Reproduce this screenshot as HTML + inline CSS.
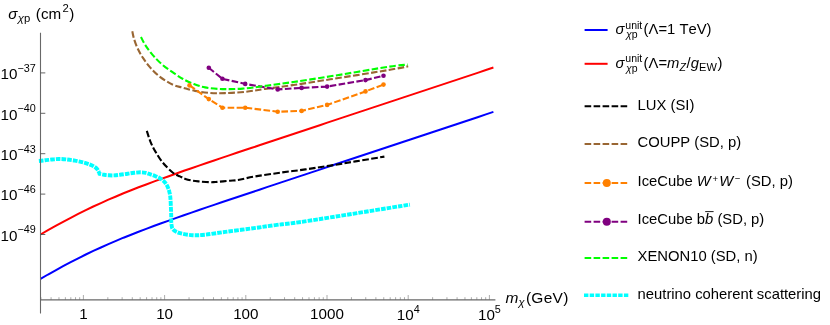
<!DOCTYPE html>
<html><head><meta charset="utf-8"><title>plot</title>
<style>html,body{margin:0;padding:0;background:#fff}body{width:830px;height:325px;overflow:hidden;font-family:"Liberation Sans",sans-serif}</style></head>
<body>
<svg width="830" height="325" viewBox="0 0 830 325" style="display:block;will-change:transform">
<rect width="830" height="325" fill="#fff"/>
<g fill="none">
<path d="M40.5,278.9 L48.0,274.5 L55.6,270.3 L63.1,266.2 L70.7,262.2 L78.2,258.3 L85.8,254.5 L93.3,250.9 L100.9,247.5 L108.4,244.1 L116.0,240.9 L123.5,237.7 L131.1,234.7 L138.6,231.7 L146.2,228.9 L153.7,226.0 L161.3,223.3 L168.8,220.6 L176.4,217.9 L183.9,215.2 L191.5,212.6 L199.0,210.0 L206.6,207.4 L214.1,204.9 L221.7,202.3 L229.2,199.8 L236.8,197.2 L244.3,194.7 L251.9,192.2 L259.4,189.7 L266.9,187.1 L274.5,184.6 L282.0,182.1 L289.6,179.6 L297.1,177.1 L304.7,174.6 L312.2,172.1 L319.8,169.6 L327.3,167.0 L334.9,164.5 L342.4,162.0 L350.0,159.5 L357.5,157.0 L365.1,154.5 L372.6,152.0 L380.2,149.5 L387.7,147.0 L395.3,144.5 L402.8,142.0 L410.4,139.5 L417.9,137.0 L425.5,134.5 L433.0,132.0 L440.6,129.5 L448.1,127.0 L455.7,124.5 L463.2,122.0 L470.8,119.5 L478.3,117.0 L485.9,114.4 L493.4,111.9" stroke="#0000ff" stroke-width="2"/>
<path d="M40.5,234.5 L48.0,230.1 L55.6,225.9 L63.1,221.8 L70.7,217.8 L78.2,213.9 L85.8,210.1 L93.3,206.5 L100.9,203.1 L108.4,199.7 L116.0,196.5 L123.5,193.3 L131.1,190.3 L138.6,187.3 L146.2,184.5 L153.7,181.6 L161.3,178.9 L168.8,176.2 L176.4,173.5 L183.9,170.8 L191.5,168.2 L199.0,165.6 L206.6,163.0 L214.1,160.5 L221.7,157.9 L229.2,155.4 L236.8,152.8 L244.3,150.3 L251.9,147.8 L259.4,145.3 L266.9,142.7 L274.5,140.2 L282.0,137.7 L289.6,135.2 L297.1,132.7 L304.7,130.2 L312.2,127.7 L319.8,125.2 L327.3,122.6 L334.9,120.1 L342.4,117.6 L350.0,115.1 L357.5,112.6 L365.1,110.1 L372.6,107.6 L380.2,105.1 L387.7,102.6 L395.3,100.1 L402.8,97.6 L410.4,95.1 L417.9,92.6 L425.5,90.1 L433.0,87.6 L440.6,85.1 L448.1,82.6 L455.7,80.1 L463.2,77.6 L470.8,75.1 L478.3,72.6 L485.9,70.0 L493.4,67.5" stroke="#ff0000" stroke-width="2"/>
<path d="M146.8,130.8 C147.4,132.6 148.9,137.9 150.3,141.3 C151.7,144.7 153.2,147.9 155.3,151.4 C157.4,154.9 159.9,159.1 162.8,162.6 C165.7,166.1 170.0,170.4 172.9,172.7 C175.8,175.0 177.9,175.4 180.0,176.4 C182.1,177.4 183.3,178.2 185.4,178.9 C187.5,179.6 190.0,180.2 192.5,180.7 C195.0,181.1 197.5,181.3 200.4,181.6 C203.3,181.8 207.5,182.1 210.0,182.2 C212.5,182.3 212.2,182.2 215.5,182.0 C218.8,181.8 226.2,181.0 230.0,180.7 C233.8,180.4 233.8,180.7 238.0,180.0 C242.2,179.3 248.2,177.6 255.2,176.4 C262.2,175.2 271.8,173.9 280.2,172.7 C288.6,171.5 296.9,170.6 305.3,169.4 C313.7,168.2 322.0,166.9 330.4,165.6 C338.8,164.3 346.4,162.9 355.4,161.4 C364.4,159.9 379.6,157.4 384.4,156.6" stroke="#000" stroke-width="2.1" stroke-dasharray="6.6 2.4"/>
<path d="M132.3,31.3 C132.6,32.5 133.1,35.9 134.0,38.8 C134.9,41.7 136.3,45.7 137.8,48.8 C139.3,51.9 140.7,54.5 142.8,57.6 C144.9,60.7 147.4,64.3 150.3,67.6 C153.2,70.8 156.5,74.2 160.3,77.1 C164.1,79.9 169.2,83.0 172.9,84.7 C176.6,86.5 178.8,86.6 182.5,87.6 C186.2,88.6 190.4,90.0 195.0,90.9 C199.6,91.8 205.0,92.6 210.0,93.0 C215.0,93.4 219.2,93.3 225.0,93.1 C230.8,92.9 238.3,92.6 245.0,91.9 C251.7,91.2 257.2,90.0 265.2,88.9 C273.2,87.8 281.9,86.7 292.8,85.1 C303.7,83.5 314.5,81.8 330.4,79.3 C346.3,76.8 375.0,72.3 388.0,70.1 C401.0,67.9 404.8,66.9 408.2,66.3" stroke="#996633" stroke-width="2.1" stroke-dasharray="6.6 2.4"/>
<path d="M189.5,85.4 L208.8,99.1 L222.4,107.7 L245.2,107.7 L277.7,111.7 L301.6,110.9 L327.1,104.9 L365.5,91.4 L383.5,84.6" stroke="#ff8000" stroke-width="2.1" stroke-dasharray="6.6 2.4"/>
<path d="M208.8,67.8 L222.4,78.8 L245.2,83.9 L277.7,89.4 L301.6,87.9 L327.1,86.6 L365.5,80.1 L383.5,75.8" stroke="#800080" stroke-width="2.1" stroke-dasharray="6.6 2.4"/>
<path d="M141.0,37.0 C141.7,38.4 143.3,42.1 145.3,45.1 C147.3,48.1 149.9,51.8 152.8,55.1 C155.7,58.4 159.0,61.9 162.8,65.1 C166.6,68.3 172.0,71.9 175.4,74.2 C178.8,76.5 180.2,77.5 183.0,79.0 C185.8,80.5 188.8,82.1 192.5,83.5 C196.2,84.9 200.0,86.5 205.0,87.4 C210.0,88.3 216.3,88.9 222.6,89.1 C228.9,89.3 235.6,89.1 242.7,88.6 C249.8,88.1 256.8,87.0 265.2,85.9 C273.6,84.8 281.9,83.7 292.8,82.1 C303.7,80.5 314.5,78.8 330.4,76.3 C346.3,73.8 375.1,68.8 388.0,66.8 C400.9,64.8 404.4,65.0 407.7,64.6" stroke="#00ff00" stroke-width="2.1" stroke-dasharray="6.6 2.4"/>
<path d="M38.9,161.0 C39.9,160.9 42.8,160.6 45.0,160.3 C47.2,160.1 49.7,159.7 52.0,159.5 C54.3,159.3 56.3,159.0 58.6,159.0 C60.9,159.0 63.3,159.1 66.0,159.4 C68.7,159.7 72.0,160.1 75.0,160.6 C78.0,161.1 81.5,161.9 84.0,162.6 C86.5,163.3 88.2,163.9 90.0,164.6 C91.8,165.3 93.3,166.0 94.5,166.8 C95.7,167.6 96.6,168.4 97.3,169.3 C98.0,170.2 98.4,171.2 98.8,172.0 C99.2,172.8 99.4,173.5 99.5,173.8 C100.1,173.9 101.6,174.4 103.0,174.6 C104.4,174.8 105.9,175.1 107.7,175.2 C109.5,175.3 111.7,175.5 113.7,175.4 C115.8,175.3 117.7,175.1 120.0,174.8 C122.3,174.5 125.3,174.0 127.6,173.7 C129.9,173.4 131.8,173.0 134.0,172.8 C136.2,172.6 138.5,172.3 140.5,172.3 C142.5,172.3 144.3,172.6 146.0,172.9 C147.7,173.2 148.9,173.9 150.5,174.4 C152.1,174.9 153.9,175.5 155.5,176.2 C157.1,176.9 158.8,177.6 160.2,178.5 C161.6,179.4 162.9,180.4 164.0,181.4 C165.1,182.4 165.8,183.5 166.5,184.7 C167.2,185.8 167.7,187.1 168.2,188.3 C168.7,189.5 169.1,190.6 169.4,192.0 C169.8,193.4 170.1,195.2 170.3,197.0 C170.5,198.8 170.5,199.6 170.7,202.6 C170.8,205.6 171.1,211.5 171.2,215.1 C171.3,218.7 171.1,221.5 171.4,223.9 C171.7,226.3 171.7,228.1 173.2,229.6 C174.7,231.1 176.9,232.3 180.2,233.2 C183.4,234.1 188.5,234.9 192.7,235.2 C196.9,235.4 199.9,235.2 205.3,234.7 C210.7,234.1 217.8,232.9 225.3,231.9 C232.8,230.9 242.1,229.7 250.4,228.6 C258.8,227.5 265.8,226.4 275.4,225.1 C285.0,223.8 285.6,224.3 308.0,220.9 C330.4,217.5 392.9,207.3 409.9,204.6" stroke="#00ffff" stroke-width="3.9" stroke-dasharray="4.6 1.1"/>
</g>
<circle cx="189.5" cy="85.4" r="2.3" fill="#ff8000"/><circle cx="208.8" cy="99.1" r="2.3" fill="#ff8000"/><circle cx="222.4" cy="107.7" r="2.3" fill="#ff8000"/><circle cx="245.2" cy="107.7" r="2.3" fill="#ff8000"/><circle cx="277.7" cy="111.7" r="2.3" fill="#ff8000"/><circle cx="301.6" cy="110.9" r="2.3" fill="#ff8000"/><circle cx="327.1" cy="104.9" r="2.3" fill="#ff8000"/><circle cx="365.5" cy="91.4" r="2.3" fill="#ff8000"/><circle cx="383.5" cy="84.6" r="2.3" fill="#ff8000"/>
<circle cx="208.8" cy="67.8" r="2.3" fill="#800080"/><circle cx="222.4" cy="78.8" r="2.3" fill="#800080"/><circle cx="245.2" cy="83.9" r="2.3" fill="#800080"/><circle cx="277.7" cy="89.4" r="2.3" fill="#800080"/><circle cx="301.6" cy="87.9" r="2.3" fill="#800080"/><circle cx="327.1" cy="86.6" r="2.3" fill="#800080"/><circle cx="365.5" cy="80.1" r="2.3" fill="#800080"/><circle cx="383.5" cy="75.8" r="2.3" fill="#800080"/>
<g fill="none" stroke="#686868">
<path d="M40.5,32.8 V313.6" stroke-width="1.1"/>
<path d="M40.5,299.95 H495.4" stroke-width="1.3"/>
</g>
<g fill="none" stroke="#666" stroke-width="0.55">
<path d="M40.94,299.8 v-2.6 M51.09,299.8 v-2.6 M58.96,299.8 v-2.6 M65.39,299.8 v-2.6 M70.82,299.8 v-2.6 M75.53,299.8 v-2.6 M79.68,299.8 v-2.6 M83.40,299.8 v-4.8 M107.84,299.8 v-2.6 M122.14,299.8 v-2.6 M132.29,299.8 v-2.6 M140.16,299.8 v-2.6 M146.59,299.8 v-2.6 M152.02,299.8 v-2.6 M156.73,299.8 v-2.6 M160.88,299.8 v-2.6 M164.60,299.8 v-4.8 M189.04,299.8 v-2.6 M203.34,299.8 v-2.6 M213.49,299.8 v-2.6 M221.36,299.8 v-2.6 M227.79,299.8 v-2.6 M233.22,299.8 v-2.6 M237.93,299.8 v-2.6 M242.08,299.8 v-2.6 M245.80,299.8 v-4.8 M270.24,299.8 v-2.6 M284.54,299.8 v-2.6 M294.69,299.8 v-2.6 M302.56,299.8 v-2.6 M308.99,299.8 v-2.6 M314.42,299.8 v-2.6 M319.13,299.8 v-2.6 M323.28,299.8 v-2.6 M327.00,299.8 v-4.8 M351.44,299.8 v-2.6 M365.74,299.8 v-2.6 M375.89,299.8 v-2.6 M383.76,299.8 v-2.6 M390.19,299.8 v-2.6 M395.62,299.8 v-2.6 M400.33,299.8 v-2.6 M404.48,299.8 v-2.6 M408.20,299.8 v-4.8 M432.64,299.8 v-2.6 M446.94,299.8 v-2.6 M457.09,299.8 v-2.6 M464.96,299.8 v-2.6 M471.39,299.8 v-2.6 M476.82,299.8 v-2.6 M481.53,299.8 v-2.6 M485.68,299.8 v-2.6 M489.40,299.8 v-4.8 "/>
<path d="M40.6,72.9 h4.7 M40.6,113.3 h4.7 M40.6,153.7 h4.7 M40.6,194.1 h4.7 M40.6,234.5 h4.7 " stroke-width="0.85" stroke="#4a4a4a"/>
</g>
<g font-family="Liberation Sans, sans-serif" font-size="14.8" fill="#000" style="font-kerning:none">
<g font-size="15.2">
<text x="0.6" y="79.1">10<tspan font-size="10.8" dy="-7.4">−37</tspan></text>
<text x="0.6" y="119.5">10<tspan font-size="10.8" dy="-7.4">−40</tspan></text>
<text x="0.6" y="159.9">10<tspan font-size="10.8" dy="-7.4">−43</tspan></text>
<text x="0.6" y="200.3">10<tspan font-size="10.8" dy="-7.4">−46</tspan></text>
<text x="0.6" y="240.7">10<tspan font-size="10.8" dy="-7.4">−49</tspan></text>
<text x="83.4" y="319" text-anchor="middle">1</text>
<text x="164.6" y="319" text-anchor="middle">10</text>
<text x="245.8" y="319" text-anchor="middle">100</text>
<text x="327.0" y="319" text-anchor="middle">1000</text>
<text x="408.2" y="319.8" text-anchor="middle">10<tspan font-size="10.8" dy="-6.9">4</tspan></text>
<text x="489.4" y="319.8" text-anchor="middle">10<tspan font-size="10.8" dy="-6.9">5</tspan></text>
<text x="8.3" y="18.9"><tspan font-style="italic">σ</tspan><tspan font-size="11.3" dy="2.8" dx="0.3"><tspan font-style="italic">χ</tspan>p</tspan><tspan dy="-2.8" dx="1.4"> (cm</tspan><tspan font-size="11.3" dy="-6.9" dx="1.3">2</tspan><tspan dy="6.9" dx="0.5">)</tspan></text>
<text x="505.4" y="303.4" font-size="15.5"><tspan font-style="italic">m</tspan><tspan font-size="11.100000000000001" dy="2.8" dx="0.3" font-style="italic">χ</tspan><tspan dy="-2.8" dx="1.2" style="letter-spacing:0.3px">(GeV)</tspan></text>
</g>
<path d="M584.6,30.0 H607.6" stroke="#0000ff" stroke-width="2" fill="none"/>
<path d="M584.6,63.8 H607.6" stroke="#ff0000" stroke-width="2" fill="none"/>
<path d="M584.6,106.3 H627.2" stroke="#000" stroke-width="2.0" stroke-dasharray="6.6 2.4" fill="none"/>
<path d="M584.6,144.1 H627.2" stroke="#996633" stroke-width="2.0" stroke-dasharray="6.6 2.4" fill="none"/>
<path d="M584.6,183.1 H627.2" stroke="#ff8000" stroke-width="2.0" stroke-dasharray="6.6 2.4" fill="none"/>
<circle cx="606.8" cy="183.1" r="4" fill="#ff8000"/>
<path d="M584.6,221.7 H627.2" stroke="#800080" stroke-width="2.0" stroke-dasharray="6.6 2.4" fill="none"/>
<circle cx="606.8" cy="221.7" r="4" fill="#800080"/>
<path d="M584.6,258.0 H627.2" stroke="#00ff00" stroke-width="2.0" stroke-dasharray="6.6 2.4" fill="none"/>
<path d="M584.0,295.2 H628.4" stroke="#00ffff" stroke-width="3.6" stroke-dasharray="4.4 1.3" fill="none"/>
<text y="34.4"><tspan x="615.4" font-style="italic">σ</tspan><tspan x="626.0" font-size="10.5" dy="3.9" font-style="italic">χ</tspan><tspan font-size="10.5">p</tspan><tspan x="625.3" font-size="10.5" dy="-9.8">unit</tspan><tspan x="643.6" dy="5.9">(Λ=1 TeV)</tspan></text>
<text y="68.2"><tspan x="615.4" font-style="italic">σ</tspan><tspan x="626.0" font-size="10.5" dy="3.9" font-style="italic">χ</tspan><tspan font-size="10.5">p</tspan><tspan x="625.3" font-size="10.5" dy="-9.8">unit</tspan><tspan x="643.6" dy="5.9">(Λ=<tspan font-style="italic">m</tspan><tspan font-size="10.5" dy="2.6" font-style="italic">Z</tspan><tspan dy="-2.6" dx="0.6">/</tspan><tspan font-style="italic" dx="0.3">g</tspan><tspan font-size="11.0" dy="2.6">EW</tspan><tspan dy="-2.6" dx="0.6">)</tspan></tspan></text>
<text x="637.6" y="110.2">LUX (SI)</text>
<text x="637.6" y="147.4">COUPP (SD, p)</text>
<text x="637.6" y="185.5">IceCube <tspan font-style="italic">W</tspan><tspan font-size="9.5" dy="-4" dx="1.8">+</tspan><tspan dy="4" dx="1.0" font-style="italic">W</tspan><tspan font-size="9.5" dy="-4" dx="1.6">−</tspan><tspan dy="4" dx="1.6"> (SD, p)</tspan></text>
<text x="637.6" y="224.4">IceCube b<tspan font-style="italic">b</tspan> (SD, p)</text>
<path d="M705.2,211.6 H713.6" stroke="#000" stroke-width="0.9" fill="none"/>
<text x="637.6" y="261.3">XENON10 (SD, n)</text>
<text x="637.6" y="299.4">neutrino coherent scattering</text>
</g>
</svg>
</body></html>
